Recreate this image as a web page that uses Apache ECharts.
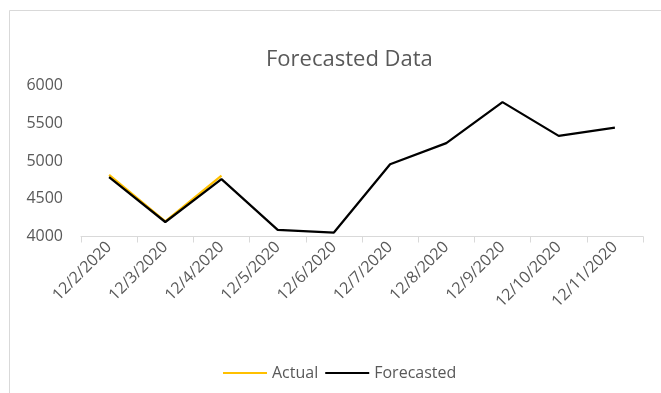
<!DOCTYPE html>
<html>
<head>
<meta charset="utf-8">
<style>
  html, body { margin: 0; padding: 0; background: #ffffff; }
  #chart { width: 661px; height: 393px; }
</style>
<script src="https://cdn.jsdelivr.net/npm/echarts@6/dist/echarts.min.js"></script>
</head>
<body>
<div id="chart"></div>
<script>
// Daily values, 2–11 Dec 2020
const dates = ['12/2/2020', '12/3/2020', '12/4/2020', '12/5/2020', '12/6/2020',
               '12/7/2020', '12/8/2020', '12/9/2020', '12/10/2020', '12/11/2020'];
const actual = [4815, 4200, 4805, null, null, null, null, null, null, null];
const forecasted = [4785, 4192, 4760, 4088, 4052, 4957, 5237, 5780, 5333, 5443];
const yTicks = { min: 4000, max: 6000, step: 500 };

const FONT = '"Open Sans", "Liberation Sans", sans-serif';
const TEXT = '#595959';

const chart = echarts.init(document.getElementById('chart'), null, { renderer: 'canvas' });
chart.setOption({
  animation: false,
  backgroundColor: '#ffffff',
  graphic: [{
    type: 'rect',
    shape: { x: 9.5, y: 10.5, width: 700, height: 400 },
    style: { fill: 'none', stroke: '#d9d9d9', lineWidth: 1 },
    silent: true
  }],
  title: {
    text: 'Forecasted Data',
    left: 261,
    top: 44,
    textStyle: { fontFamily: FONT, fontSize: 22, fontWeight: 'normal', color: TEXT }
  },
  legend: {
    top: 360,
    left: 218,
    itemWidth: 44,
    itemHeight: 2,
    itemGap: 7,
    icon: 'rect',
    textStyle: { fontFamily: FONT, fontSize: 16, color: TEXT },
    data: ['Actual', 'Forecasted']
  },
  grid: { left: 81, right: 18, top: 85.5, bottom: 156.5, containLabel: false },
  xAxis: {
    type: 'category',
    data: dates,
    boundaryGap: true,
    axisLine: { lineStyle: { color: '#d9d9d9', width: 1 } },
    axisTick: { show: true, length: 6, lineStyle: { color: '#d9d9d9' } },
    axisLabel: {
      rotate: 45,
      margin: 8,
      fontFamily: FONT,
      fontSize: 16,
      color: TEXT,
      interval: 0
    }
  },
  yAxis: {
    type: 'value',
    min: yTicks.min,
    max: yTicks.max,
    interval: yTicks.step,
    axisLine: { show: false },
    axisTick: { show: false },
    splitLine: { show: false },
    axisLabel: {
      fontFamily: FONT, fontSize: 16, color: TEXT, margin: 18,
      formatter: v => String(v)
    }
  },
  series: [
    {
      name: 'Actual',
      type: 'line',
      data: actual,
      symbol: 'none',
      connectNulls: false,
      lineStyle: { color: '#ffc000', width: 2.25 },
      itemStyle: { color: '#ffc000' },
      z: 2
    },
    {
      name: 'Forecasted',
      type: 'line',
      data: forecasted,
      symbol: 'none',
      lineStyle: { color: '#000000', width: 2.25 },
      itemStyle: { color: '#000000' },
      z: 3
    }
  ]
});
</script>
</body>
</html>
